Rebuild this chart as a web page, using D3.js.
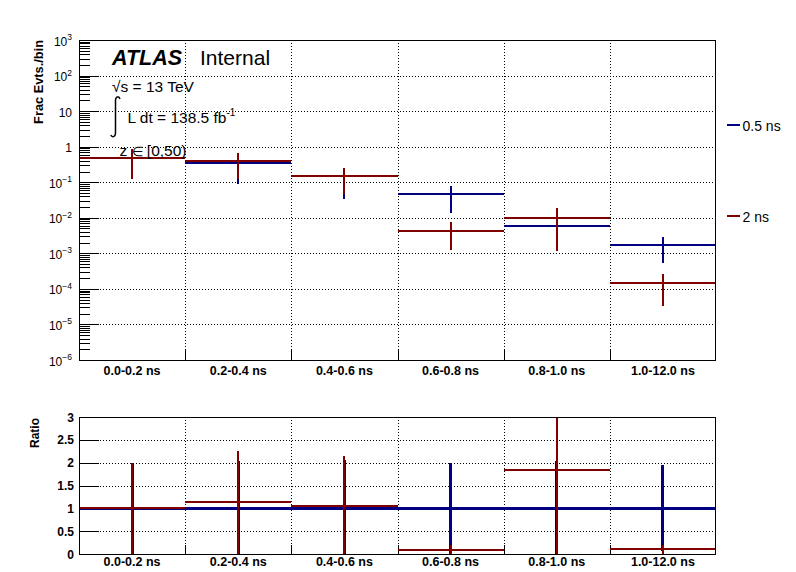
<!DOCTYPE html>
<html>
<head>
<meta charset="utf-8">
<script src="https://cdn.jsdelivr.net/npm/d3@7"></script>
<style>
  html, body { margin: 0; padding: 0; background: #fff; }
  svg { display: block; }
  text { font-family: "Liberation Sans", Arial, Helvetica, sans-serif; fill: #000; }
</style>
</head>
<body>
<svg id="chart" width="796" height="572"></svg>
<script>
// ---------------- data ----------------
const categories = ["0.0-0.2 ns", "0.2-0.4 ns", "0.4-0.6 ns", "0.6-0.8 ns", "0.8-1.0 ns", "1.0-12.0 ns"];
const seriesNames = ["0.5 ns", "2 ns"];
const blueVals = [0.48, 0.352, 0.145, 0.0452, 0.0057, 0.00175];
const blueErr  = [0.36, 0.265, 0.112, 0.032, 0.0038, 0.0012];
const redVals  = [0.48, 0.40, 0.151, 0.00431, 0.0100, 0.000149];
const redErr   = [0.36, 0.28, 0.105, 0.0031, 0.0088, 0.000116];
const ratioBlue    = [1, 1, 1, 1, 1, 1];
const ratioBlueErr = [1.0, 1.03, 1.06, 1.0, 1.03, 0.94];
const ratioRed     = [1.0, 1.13, 1.057, 0.094, 1.845, 0.10];
const ratioRedErr  = [1.0, 1.12, 1.09, 0.095, 1.9, 0.09];
const logTicks = [-6, -5, -4, -3, -2, -1, 0, 1, 2, 3];
const ratioTicks = [0, 0.5, 1, 1.5, 2, 2.5, 3];
const ratioTickLabels = ["0", "0.5", "1", "1.5", "2", "2.5", "3"];

const BLUE = "#000080", RED = "#800000";

// ---------------- layout ----------------
const svg = d3.select("#chart");
const L = 79, R = 716;
const topY0 = 360, topY1 = 40;
const botY0 = 554, botY1 = 417;

const x = d3.scaleBand().domain(categories).range([L, R]).padding(0);
const xe = d3.scaleLinear().domain([0, categories.length]).range([L, R]);
const yTop = d3.scaleLog().domain([1e-6, 1e3]).range([topY0, topY1]);
const yBot = d3.scaleLinear().domain([0, 3]).range([botY0, botY1]);

const defs = svg.append("defs");
defs.append("clipPath").attr("id", "clipTop").append("rect")
  .attr("x", L).attr("y", topY1).attr("width", R - L).attr("height", topY0 - topY1);
defs.append("clipPath").attr("id", "clipBot").append("rect")
  .attr("x", L).attr("y", botY1).attr("width", R - L).attr("height", botY0 - botY1);

function styleAxis(g) {
  g.select(".domain").remove();
  g.selectAll("line").attr("stroke", "#000").attr("stroke-width", 1).attr("shape-rendering", "crispEdges");
  g.selectAll("text").remove();
}

// ---------------- top panel ----------------
const topG = svg.append("g");
const gridTop = topG.append("g").attr("stroke", "#000").attr("stroke-width", 1)
  .attr("stroke-dasharray", "1,2").attr("shape-rendering", "crispEdges");
logTicks.slice(1, -1).forEach(e => {
  const yy = Math.round(yTop(Math.pow(10, e))) + 0.5;
  gridTop.append("line").attr("x1", L).attr("x2", R).attr("y1", yy).attr("y2", yy);
});
d3.range(1, categories.length).forEach(i => {
  const xx = Math.round(xe(i)) + 0.5;
  gridTop.append("line").attr("y1", topY1).attr("y2", topY0).attr("x1", xx).attr("x2", xx);
});

const majorVals = logTicks.map(e => Math.pow(10, e));
const minorVals = [];
logTicks.slice(0, -1).forEach(e => { for (let k = 2; k <= 9; k++) minorVals.push(k * Math.pow(10, e)); });
topG.append("g").attr("transform", `translate(${L},0)`)
  .call(d3.axisLeft(yTop).tickValues(majorVals).tickSize(-20).tickFormat(""))
  .call(styleAxis);
topG.append("g").attr("transform", `translate(${L},0)`)
  .call(d3.axisLeft(yTop).tickValues(minorVals).tickSize(-10.5).tickFormat(""))
  .call(styleAxis);
topG.append("g").attr("transform", `translate(0,${topY0})`)
  .call(d3.axisBottom(xe).tickValues(d3.range(1, categories.length)).tickSize(-11).tickFormat(""))
  .call(styleAxis);

logTicks.forEach(e => {
  const yy = yTop(Math.pow(10, e));
  const t = topG.append("text").attr("x", 72).attr("y", yy + 5.5)
    .attr("text-anchor", "end").attr("font-size", "12px");
  if (e === 0) t.text("1");
  else if (e === 1) t.text("10");
  else {
    t.append("tspan").text("10");
    t.append("tspan").attr("dy", -5.5).attr("font-size", "8.5px").text(e < 0 ? "\u2212" + (-e) : String(e));
  }
});

categories.forEach(c => {
  topG.append("text").attr("x", x(c) + x.bandwidth() / 2).attr("y", 375)
    .attr("text-anchor", "middle").attr("font-size", "12.5px").attr("font-weight", "bold").text(c);
});

topG.append("text").attr("transform", `translate(43,40) rotate(-90)`)
  .attr("text-anchor", "end").attr("font-size", "12.8px").attr("font-weight", "bold")
  .text("Frac Evts./bin");

function drawHist(g, yScale, vals, errs, color, hw, vw, clipId, floor) {
  const gg = g.append("g").attr("clip-path", `url(#${clipId})`).attr("stroke", color)
    .attr("shape-rendering", "crispEdges");
  categories.forEach((c, i) => {
    const yv = yScale(vals[i]);
    gg.append("line").attr("x1", x(c)).attr("x2", x(c) + x.bandwidth())
      .attr("y1", yv).attr("y2", yv).attr("stroke-width", hw);
    const lo = Math.max(vals[i] - errs[i], floor);
    const hi = vals[i] + errs[i];
    const cx = x(c) + x.bandwidth() / 2;
    gg.append("line").attr("x1", cx).attr("x2", cx)
      .attr("y1", yScale(lo)).attr("y2", yScale(hi)).attr("stroke-width", vw);
  });
}
drawHist(topG, yTop, blueVals, blueErr, BLUE, 2, 2, "clipTop", 1e-8);
drawHist(topG, yTop, redVals, redErr, RED, 2, 2, "clipTop", 1e-8);

topG.append("rect").attr("x", L + 0.5).attr("y", topY1 + 0.5).attr("width", R - L - 1).attr("height", topY0 - topY1)
  .attr("fill", "none").attr("stroke", "#000").attr("stroke-width", 1).attr("shape-rendering", "crispEdges");

topG.append("text").attr("x", 112).attr("y", 64.5).attr("font-size", "21.5px")
  .attr("font-weight", "bold").attr("font-style", "italic").text("ATLAS");
topG.append("text").attr("x", 200).attr("y", 64.5).attr("font-size", "21px").text("Internal");
topG.append("text").attr("x", 112).attr("y", 91.7).attr("font-size", "15.5px").text("\u221As = 13 TeV");
topG.append("path")
  .attr("d", "M120,99 C119,96 116,96 115.5,100 L115.5,133 C115.2,137.5 112,137.5 110.8,135")
  .attr("fill", "none").attr("stroke", "#000").attr("stroke-width", 1.5);
const lum = topG.append("text").attr("x", 127.5).attr("y", 123.3).attr("font-size", "15.5px");
lum.append("tspan").text("L dt = 138.5 fb");
lum.append("tspan").attr("dy", -7).attr("font-size", "10px").text("-1");
const zt = topG.append("text").attr("x", 119.5).attr("y", 156).attr("font-size", "15.5px");
zt.append("tspan").text("z ");
zt.append("tspan").attr("font-family", "'DejaVu Sans', sans-serif").attr("font-size", "12.5px").attr("font-weight", "200").text("\u2208");
zt.append("tspan").text(" [0,50)");

const legY = [125, 215.5];
const legC = [BLUE, RED];
seriesNames.forEach((n, i) => {
  svg.append("line").attr("x1", 727).attr("x2", 740).attr("y1", legY[i]).attr("y2", legY[i])
    .attr("stroke", legC[i]).attr("stroke-width", 2).attr("shape-rendering", "crispEdges");
  svg.append("text").attr("x", 742.5).attr("y", legY[i] + 6).attr("font-size", "14px").text(n);
});

// ---------------- ratio panel ----------------
const botG = svg.append("g");
const gridBot = botG.append("g").attr("stroke", "#000").attr("stroke-width", 1)
  .attr("stroke-dasharray", "1,2").attr("shape-rendering", "crispEdges");
ratioTicks.slice(1, -1).forEach(v => {
  const yy = Math.round(yBot(v)) + 0.5;
  gridBot.append("line").attr("x1", L).attr("x2", R).attr("y1", yy).attr("y2", yy);
});
d3.range(1, categories.length).forEach(i => {
  const xx = Math.round(xe(i)) + 0.5;
  gridBot.append("line").attr("y1", botY1).attr("y2", botY0).attr("x1", xx).attr("x2", xx);
});
botG.append("g").attr("transform", `translate(${L},0)`)
  .call(d3.axisLeft(yBot).tickValues(ratioTicks).tickSize(-20).tickFormat(""))
  .call(styleAxis);
botG.append("g").attr("transform", `translate(0,${botY0})`)
  .call(d3.axisBottom(xe).tickValues(d3.range(1, categories.length)).tickSize(-9).tickFormat(""))
  .call(styleAxis);

ratioTicks.forEach((v, i) => {
  botG.append("text").attr("x", 74).attr("y", yBot(v) + 4.5).attr("text-anchor", "end")
    .attr("font-size", "12px").attr("font-weight", "bold").text(ratioTickLabels[i]);
});
categories.forEach(c => {
  botG.append("text").attr("x", x(c) + x.bandwidth() / 2).attr("y", 566)
    .attr("text-anchor", "middle").attr("font-size", "12.5px").attr("font-weight", "bold").text(c);
});
botG.append("text").attr("transform", `translate(38.5,418) rotate(-90)`)
  .attr("text-anchor", "end").attr("font-size", "12px").attr("font-weight", "bold").text("Ratio");

drawHist(botG, yBot, ratioBlue, ratioBlueErr, BLUE, 3, 3, "clipBot", -1);
drawHist(botG, yBot, ratioRed, ratioRedErr, RED, 2, 2, "clipBot", -1);

botG.append("rect").attr("x", L + 0.5).attr("y", botY1 + 0.5).attr("width", R - L - 1).attr("height", botY0 - botY1)
  .attr("fill", "none").attr("stroke", "#000").attr("stroke-width", 1).attr("shape-rendering", "crispEdges");
</script>
</body>
</html>
